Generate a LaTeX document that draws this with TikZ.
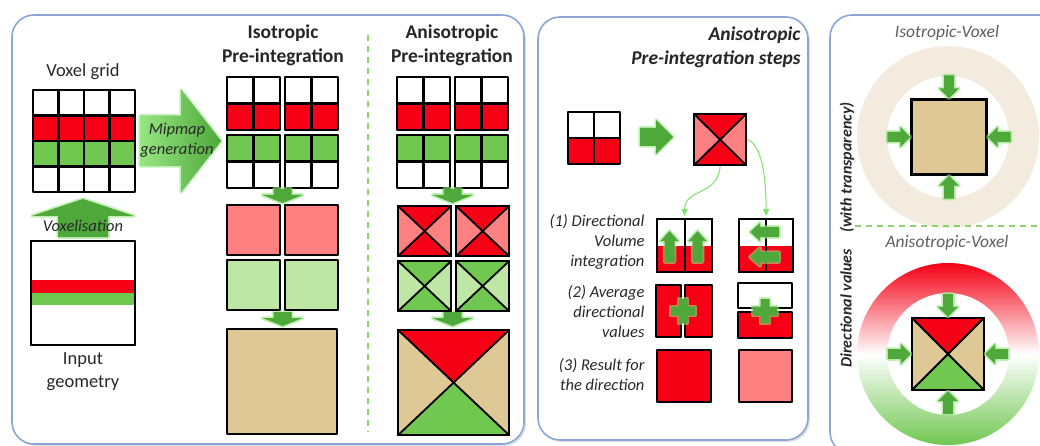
\documentclass[tikz,border=0pt]{standalone}
\usepackage{fontspec}
\setmainfont{Carlito}
\usepackage{tikz}
\usetikzlibrary{positioning, arrows.meta, shadows}
\definecolor{ink}{RGB}{40,40,40}
\definecolor{muted}{RGB}{95,95,95}
\definecolor{panelline}{RGB}{140,165,215}
\definecolor{cred}{RGB}{245,0,20}
\definecolor{cpink}{RGB}{255,128,128}
\definecolor{cgreen}{RGB}{112,200,80}
\definecolor{clgreen}{RGB}{190,230,165}
\definecolor{ctan}{RGB}{222,200,150}
\definecolor{cbeige}{RGB}{242,235,222}
\definecolor{arrgreen}{RGB}{78,168,58}
\definecolor{glowgreen}{RGB}{150,230,130}
\definecolor{sepgreen}{RGB}{140,210,110}
\definecolor{linkgreen}{RGB}{130,225,110}
\tikzset{
  panel/.style   ={draw=panelline, line width=1.6pt, rounded corners=22pt, fill=white,
                   drop shadow={shadow xshift=2pt, shadow yshift=-2pt, opacity=.25}},
  cellbox/.style ={draw=black, line width=2.2pt, line join=round},
  sq/.style      ={rectangle, draw=black, line width=2.2pt, inner sep=0pt, anchor=north west},
  xbox/.style n args={3}{sq, fill=#3, path picture={
      \fill[#1] (path picture bounding box.north west) -- (path picture bounding box.center)
                -- (path picture bounding box.north east) -- cycle;
      \fill[#2] (path picture bounding box.south west) -- (path picture bounding box.center)
                -- (path picture bounding box.south east) -- cycle;
      \draw[line width=1.8pt] (path picture bounding box.north west) -- (path picture bounding box.south east)
                (path picture bounding box.north east) -- (path picture bounding box.south west);}},
  halfbox/.style ={sq, fill=white, path picture={
      \fill[cred] (path picture bounding box.west) rectangle (path picture bounding box.south east);
      \draw[line width=2pt] (path picture bounding box.north) -- (path picture bounding box.south);}},
  fatarr/.style  ={fill=arrgreen, preaction={draw=glowgreen, line width=3.5pt, draw opacity=.6, line join=round}},
  linkarr/.style ={-{Triangle[length=7pt, width=6pt]}, draw=linkgreen, line width=1pt, shorten >=2pt},
  sepline/.style ={draw=sepgreen, line width=1.3pt, dash pattern=on 6pt off 5pt},
  headtxt/.style ={font=\fontsize{19.5}{24}\selectfont\bfseries, align=center, text=black!85},
  captxt/.style  ={font=\fontsize{18.5}{23}\selectfont, align=center},
  arrtxt/.style  ={font=\fontsize{16.5}{20}\selectfont\itshape, align=center},
  steptxt/.style ={font=\fontsize{16.5}{20}\selectfont\itshape, align=right, anchor=east},
  voxtxt/.style  ={font=\fontsize{17.5}{20}\selectfont\itshape, text=muted},
}
% tip, angle, length, shaft half width, head half width, head length
\newcommand{\fatarrow}[7][]{%
  \path[fatarr, #1, shift={#2}, rotate=#3]
    (0,0) -- (-#7,#6) -- (-#7,#5) -- (-#4,#5) -- (-#4,-#5) -- (-#7,-#5) -- (-#7,-#6) -- cycle;}
\newcommand{\plussign}[1]{%
  \path[fatarr, shift={#1}] (-4.5,-12) -- (4.5,-12) -- (4.5,-4.5) -- (12,-4.5) -- (12,4.5) -- (4.5,4.5)
    -- (4.5,12) -- (-4.5,12) -- (-4.5,4.5) -- (-12,4.5) -- (-12,-4.5) -- (-4.5,-4.5) -- cycle;}

\begin{document}
\begin{tikzpicture}[x=1pt, y=-1pt, every node/.style={text=ink}]
\useasboundingbox (0,0) rectangle (1040,446);
\clip (0,0) rectangle (1040,446);

\path[panel] (12,15) rectangle (524,444);
\path[panel] (538,17) rectangle (808,440);
\path[panel] (830,15) rectangle (1066,454);

% voxel grid / input geometry
\node[captxt] (gridlbl) at (83,72) {Voxel grid};
\foreach \row/\col in {0/white,1/cred,2/cgreen,3/white}
  \foreach \k in {0,...,3}
    \draw[cellbox, fill=\col] ({33+25.5*\k},{90+25.5*\row}) rectangle ++(25.5,25.5);
\fatarrow[left color=glowgreen, right color=arrgreen]{(221,141)}{0}{81}{25}{51}{40}
\node[arrtxt] (mipmaplbl) at (177,140) {Mipmap\\generation};
\fatarrow{(83,199)}{90}{38}{25}{51}{17}
\node[arrtxt] (voxlbl) at (83,226) {Voxelisation};
\draw[cellbox, fill=white] (31,241) rectangle (135,345);
\fill[cred] (31,280) rectangle (135,293);
\fill[cgreen] (31,293) rectangle (135,305);
\draw[cellbox] (31,241) rectangle (135,345);
\node[captxt] (geolbl) at (83,372) {Input\\geometry};

% isotropic / anisotropic columns
\node[headtxt] (isohead) at (283,45) {Isotropic\\Pre-integration};
\node[headtxt] (anisohead) at (452,45) {Anisotropic\\Pre-integration};
\foreach \bx in {227,285,397,455}
  \foreach \k in {0,1} {
    \draw[cellbox, fill=white]  ({\bx+26.5*\k},77)    rectangle ++(26.5,26.5);
    \draw[cellbox, fill=cred]   ({\bx+26.5*\k},103.5) rectangle ++(26.5,26.5);
    \draw[cellbox, fill=cgreen] ({\bx+26.5*\k},135)   rectangle ++(26.5,26.5);
    \draw[cellbox, fill=white]  ({\bx+26.5*\k},161.5) rectangle ++(26.5,26.5);
  }
\foreach \ax in {282.5,452.5} {
  \fatarrow{(\ax,203)}{-90}{14}{9}{20}{8}
  \fatarrow{(\ax,326)}{-90}{14}{9}{20}{8}
}
\foreach \bx in {227,285} {
  \draw[cellbox, fill=cpink]   (\bx,205) rectangle ++(53,50);
  \draw[cellbox, fill=clgreen] (\bx,260) rectangle ++(53,50);
}
\draw[cellbox, fill=ctan] (227,329) rectangle (337,434);
\foreach \bx [count=\i] in {397,455} {
  \node[xbox={cred}{cred}{cpink}, minimum width=53pt, minimum height=50pt] (xr\i) at (\bx,205) {};
  \node[xbox={cgreen}{cgreen}{clgreen}, minimum width=53pt, minimum height=50pt] (xg\i) at (\bx,260) {};
}
\node[xbox={cred}{cgreen}{ctan}, minimum width=111pt, minimum height=105pt] (xbig) at (397,329) {};
\draw[sepline] (368,35) -- (368,432);

% anisotropic pre-integration steps
\node[headtxt, font=\fontsize{19.5}{24}\selectfont\bfseries\itshape, align=right, anchor=east] (stepshead) at (804,47)
  {Anisotropic\\Pre-integration steps};
\foreach \k in {0,1} {
  \draw[cellbox, fill=white] ({568+26*\k},112) rectangle ++(26,26);
  \draw[cellbox, fill=cred]  ({568+26*\k},138) rectangle ++(26,26);
}
\fatarrow{(673,137)}{0}{33}{9}{17}{17}
\node[xbox={cred}{cred}{cpink}, minimum width=52pt, minimum height=51pt] (xsq) at (693,113) {};

\node[steptxt] (step1) at (648,242) {(1) Directional\\Volume\\integration};
\node[halfbox, minimum width=55pt, minimum height=53pt] (dirL) at (656,218) {};
\node[halfbox, minimum width=54pt, minimum height=53pt] (dirR) at (738,218) {};
\fatarrow{(669.5,231)}{90}{31}{5}{9}{10}
\fatarrow{(697.5,231)}{90}{31}{5}{9}{10}
\fatarrow{(750,232)}{180}{29}{5}{9}{10}
\fatarrow{(750,257)}{180}{29}{5}{9}{10}
\draw[linkarr] (xsq.south) .. controls +(-2,30) and +(0,-30) .. (dirL.north);
\draw[linkarr] (xsq.east) .. controls +(15,5) and +(0,-40) .. (dirR.north);

\node[steptxt] (step2) at (648,312) {(2) Average\\directional\\values};
\draw[cellbox, fill=cred] (656,285) rectangle (681,337);
\draw[cellbox, fill=cred] (685,285) rectangle (712,337);
\plussign{(683,311)}
\draw[cellbox, fill=white] (738,283) rectangle (792,308);
\draw[cellbox, fill=cred]  (738,312) rectangle (792,338);
\plussign{(765,311)}

\node[steptxt] (step3) at (648,375) {(3) Result for\\the direction};
\draw[cellbox, fill=cred]  (657,350) rectangle (711,402);
\draw[cellbox, fill=cpink] (739,350) rectangle (792,402);

% directional values
\node[voxtxt] (isolbl) at (947,33) {Isotropic-Voxel};
\fill[cbeige, even odd rule] (948,137) circle[radius=91pt] (948,137) circle[radius=61pt];
\node[sq, fill=ctan, minimum size=75pt, anchor=center] (isovox) at (949,137) {};
\foreach \a/\ang in {north/-90, south/90, west/0, east/180}
  \fatarrow{(isovox.\a)}{\ang}{23}{5}{10}{10};
\draw[sepline] (855,226) -- (1040,226);
\node[voxtxt] (anisolbl) at (947,243) {Anisotropic-Voxel};
\shade[top color=cred, bottom color=cgreen, middle color=white, even odd rule]
  (948,354) circle[radius=91pt] (948,354) circle[radius=61pt];
\node[xbox={cred}{cgreen}{ctan}, minimum size=72pt, anchor=center] (anisovox) at (948,354) {};
\foreach \a/\ang in {north/-90, south/90, west/0, east/180}
  \fatarrow{(anisovox.\a)}{\ang}{23}{5}{10}{10};
\node[rotate=90, font=\fontsize{16}{19}\selectfont\bfseries\itshape] (dirlbl) at (847,235)
  {Directional values\quad(with transparency)};
\end{tikzpicture}
\end{document}
